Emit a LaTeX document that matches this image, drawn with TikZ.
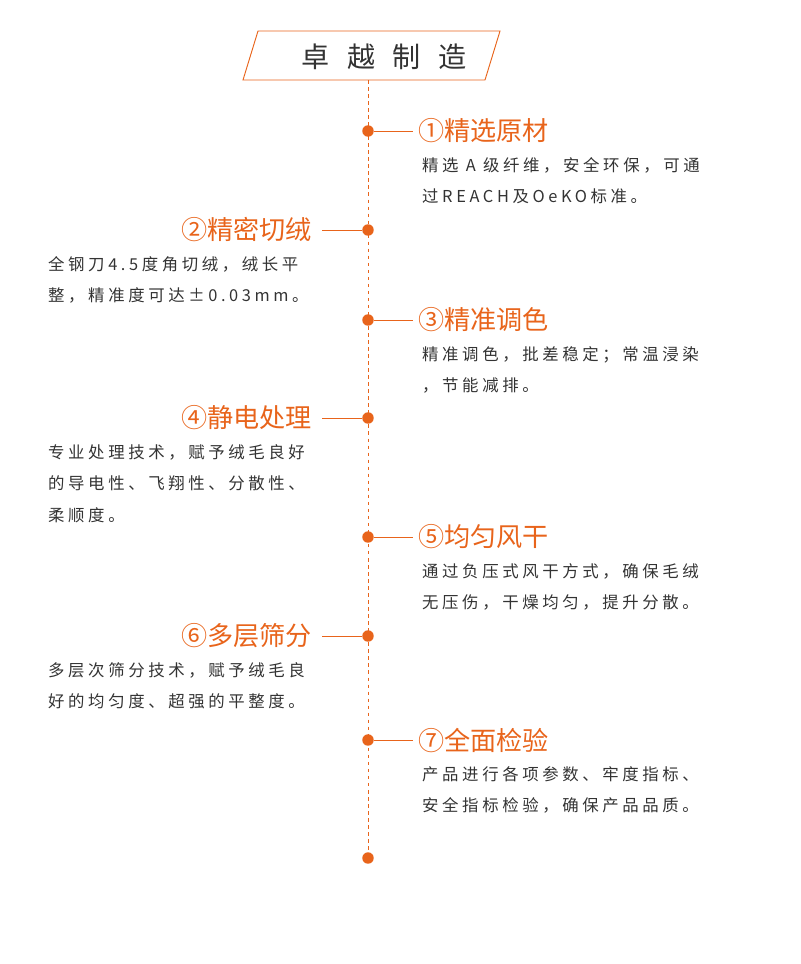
\documentclass[tikz,border=0pt]{standalone}
\usepackage{fontspec}
\setmainfont{Noto Sans CJK SC}
\usetikzlibrary{positioning}
\definecolor{orng}{HTML}{E8641B}
\definecolor{txt}{HTML}{333333}

\begin{document}
\begin{tikzpicture}[x=0.03cm, y=-0.03cm,
  dot/.style = {circle, fill=orng, inner sep=0, minimum size=11.5*0.85pt},
  ttl/.style = {text=orng, font=\fontsize{22.3}{24}\selectfont, inner sep=0},
  body/.style = {text=txt, align=left, inner sep=0,
    font=\addfontfeatures{LetterSpace=22}\fontsize{14}{27}\selectfont}]

\useasboundingbox (0,0) rectangle (800,964);

% header
\draw[orng, thick] (258,31) -- (500,31) -- (485,80) -- (243,80) -- cycle;
\node[text=txt, font=\addfontfeatures{LetterSpace=62}\fontsize{24}{26}\selectfont] (head) at (384,57) {卓越制造};

\draw[orng, dashed, thin] (368,80) -- (368,858);

% dots
\foreach \n/\y in {1/131, 2/230, 3/320, 4/418, 5/537, 6/636, 7/740, 8/858}
  \node[dot] (d\n) at (368,\y) {};

% right side
\node[ttl, anchor=west] (t1) at (418,131) {①精选原材};
\node[ttl, anchor=west] (t3) at (418,320) {③精准调色};
\node[ttl, anchor=west] (t5) at (418,537) {⑤均匀风干};
\node[ttl, anchor=west] (t7) at (418,740) {⑦全面检验};
\foreach \n in {1,3,5,7}
  \draw[orng] (d\n) -- (413,0 |- d\n);

\node[body, anchor=north west] (b1) at (422,157) {精选 A 级纤维，安全环保，可通\\过REACH及OeKO标准。};
\node[body, anchor=north west] (b3) at (422,346) {精准调色，批差稳定；常温浸染\\，节能减排。};
\node[body, anchor=north west] (b5) at (422,563) {通过负压式风干方式，确保毛绒\\无压伤，干燥均匀，提升分散。};
\node[body, anchor=north west] (b7) at (422,766) {产品进行各项参数、牢度指标、\\安全指标检验，确保产品品质。};

% left side
\node[ttl, anchor=east] (t2) at (312,230) {②精密切绒};
\node[ttl, anchor=east] (t4) at (312,418) {④静电处理};
\node[ttl, anchor=east] (t6) at (312,636) {⑥多层筛分};
\foreach \n in {2,4,6}
  \draw[orng] (d\n) -- (322,0 |- d\n);

\node[body, anchor=north west] (b2) at (48,256) {全钢刀4.5度角切绒，绒长平\\整，精准度可达±0.03mm。};
\node[body, anchor=north west] (b4) at (48,444) {专业处理技术，赋予绒毛良好\\的导电性、飞翔性、分散性、\\柔顺度。};
\node[body, anchor=north west] (b6) at (48,662) {多层次筛分技术，赋予绒毛良\\好的均匀度、超强的平整度。};

\end{tikzpicture}
\end{document}
